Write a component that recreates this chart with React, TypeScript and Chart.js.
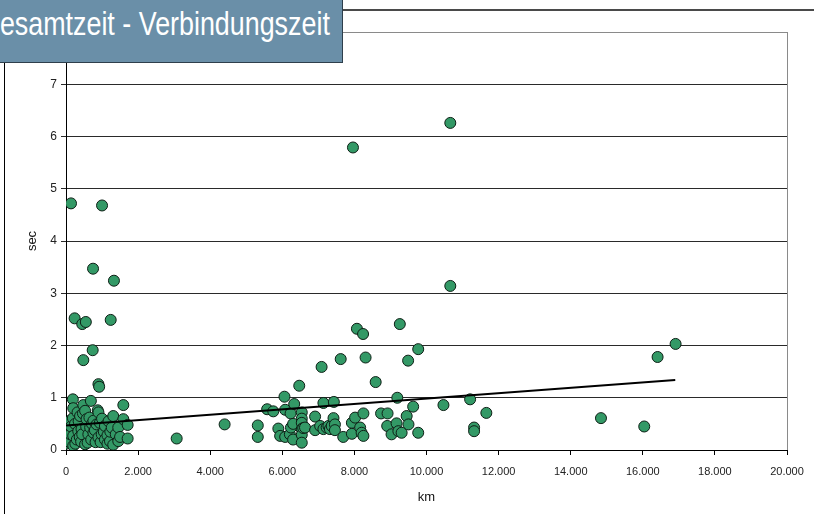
import React, { useEffect, useRef } from "react";
import { Chart, registerables } from "chart.js";

Chart.register(...registerables);

const kmValues: number[] = [
  0, 20, 30, 60, 60, 100, 110, 120, 139, 140, 190, 190, 200, 200, 200, 240, 250, 260, 300, 320,
  340, 350, 380, 390, 420, 430, 450, 450, 470, 480, 480, 530, 530, 550, 560, 570, 600, 620, 650, 670,
  690, 700, 720, 740, 750, 760, 760, 800, 820, 850, 880, 900, 900, 900, 920, 940, 960, 990, 1000, 1000,
  1050, 1080, 1080, 1150, 1150, 1180, 1220, 1230, 1240, 1270, 1310, 1310, 1330, 1380, 1450, 1450, 1500, 1590, 1590, 1710,
  1710, 3070, 4400,
  5320, 5320, 5580, 5750, 5890, 5940, 6060, 6080, 6080, 6210, 6230, 6240, 6300, 6300, 6330, 6470, 6540, 6540, 6540, 6540,
  6540, 6540, 6580, 6630, 6910, 6910, 7050, 7090, 7140, 7140, 7230, 7280, 7320, 7370, 7420, 7430, 7460, 7460, 7620, 7690,
  7930, 7930, 7960, 8020, 8070, 8160, 8200, 8240, 8250, 8250, 8310, 8590, 8740, 8910, 8920, 9030, 9170, 9190, 9220, 9260,
  9310, 9450, 9490, 9500, 9630, 9770, 9770, 10470, 10660, 10660, 11210, 11320, 11320, 11660, 14840, 16040, 16410, 16910,
];

const secValues: number[] = [
  0.12, 0.24, 0.40, 0.33, 0.18, 0.15, 0.56, 0.30, 4.72, 0.45, 0.61, 0.97, 0.80, 0.27, 0.08, 2.52, 0.50, 0.12, 0.20, 0.72,
  0.36, 0.55, 0.25, 0.65, 0.16, 0.40, 2.41, 0.30, 0.70, 0.86, 1.72, 0.75, 0.11, 2.45, 0.45, 0.59, 0.14, 0.30, 0.62, 0.43,
  0.94, 0.20, 0.50, 1.91, 3.47, 0.56, 0.33, 0.38, 0.15, 0.49, 0.76, 0.72, 0.24, 1.26, 1.21, 0.52, 0.15, 0.30, 4.68, 0.60,
  0.35, 0.46, 0.20, 0.28, 0.12, 0.55, 0.17, 0.35, 2.49, 0.43, 0.65, 0.10, 3.24, 0.30, 0.43, 0.17, 0.25, 0.86, 0.59, 0.48,
  0.22, 0.22, 0.49,
  0.47, 0.25, 0.78, 0.74, 0.41, 0.27, 1.02, 0.77, 0.25, 0.30, 0.70, 0.43, 0.50, 0.20, 0.88, 1.23, 0.72, 0.60, 0.52, 0.40,
  0.29, 0.14, 0.42, 0.43, 0.64, 0.38, 0.46, 1.59, 0.90, 0.40, 0.43, 0.46, 0.40, 0.46, 0.61, 0.92, 0.49, 0.38, 1.74, 0.25,
  0.52, 0.31, 5.79, 0.62, 2.32, 0.43, 0.33, 2.22, 0.70, 0.27, 1.77, 1.30, 0.70, 0.46, 0.70, 0.30, 0.51, 1.00, 0.36, 2.41,
  0.33, 0.65, 1.71, 0.49, 0.83, 0.33, 1.93, 0.86, 6.26, 3.14, 0.97, 0.43, 0.36, 0.71, 0.61, 0.45, 1.78, 2.03,
];

const trendKm: number[] = [0, 16900];
const trendSec: number[] = [0.47, 1.34];

const titleText = "Gesamtzeit - Verbindungszeit";
const xAxisTitle = "km";
const yAxisTitle = "sec";

const fmtThousands = (v: number) =>
  Math.round(v).toString().replace(/\B(?=(\d{3})+(?!\d))/g, ".");

const plotBorder = {
  id: "plotBorder",
  afterDatasetsDraw(chart: any) {
    const { ctx, chartArea } = chart;
    ctx.save();
    ctx.strokeStyle = "#8a8a8a";
    ctx.lineWidth = 1;
    ctx.beginPath();
    ctx.moveTo(Math.round(chartArea.right) + 0.5, chartArea.top);
    ctx.lineTo(Math.round(chartArea.right) + 0.5, chartArea.bottom);
    ctx.stroke();
    ctx.restore();
  },
};

export default function App() {
  const canvasRef = useRef<HTMLCanvasElement | null>(null);

  useEffect(() => {
    document.body.style.margin = "0";
    const canvas = canvasRef.current;
    if (!canvas) return;
    const points = kmValues.map((x, i) => ({ x, y: secValues[i] }));
    const trend = trendKm.map((x, i) => ({ x, y: trendSec[i] }));
    const font = "'Liberation Sans', Arial, sans-serif";

    const chart = new Chart(canvas, {
      type: "scatter",
      data: {
        datasets: [
          {
            type: "line",
            label: "Trend",
            data: trend,
            borderColor: "#000",
            borderWidth: 2,
            pointRadius: 0,
            fill: false,
            order: 0,
          } as any,
          {
            label: "Verbindungszeit",
            data: points,
            backgroundColor: "#339966",
            borderColor: "#0d1f15",
            borderWidth: 1,
            pointRadius: 5.5,
            order: 1,
          },
        ],
      },
      options: {
        animation: false,
        responsive: false,
        maintainAspectRatio: false,
        layout: { padding: { left: 21, right: 27, top: 32, bottom: 5 } },
        plugins: {
          legend: { display: false },
          tooltip: { enabled: false },
        },
        scales: {
          x: {
            type: "linear",
            min: 0,
            max: 20000,
            afterFit: (scale: any) => {
              scale.height = 59;
            },
            ticks: {
              stepSize: 2000,
              padding: 10,
              color: "#222",
              font: { family: font, size: 11 },
              callback: (v: any) => fmtThousands(Number(v)),
              maxRotation: 0,
            },
            grid: {
              drawOnChartArea: false,
              drawTicks: true,
              tickLength: 5,
              color: "#000",
            },
            border: { display: true, color: "#000", width: 1 },
            title: {
              display: true,
              text: xAxisTitle,
              color: "#111",
              font: { family: font, size: 13 },
              padding: { top: 4, bottom: 4 },
            },
          },
          y: {
            type: "linear",
            min: 0,
            max: 8,
            afterFit: (scale: any) => {
              scale.width = 45;
            },
            ticks: {
              stepSize: 1,
              padding: 4,
              color: "#222",
              font: { family: font, size: 12 },
              callback: (v: any) => (Number(v) === 8 ? "" : String(v)),
            },
            grid: {
              drawTicks: true,
              tickLength: 5,
              color: (c: any) => (c.tick && c.tick.value === 8 ? "#8a8a8a" : "#2a2a2a"),
              lineWidth: 1,
            },
            border: { display: true, color: "#000", width: 1 },
            title: {
              display: true,
              text: yAxisTitle,
              color: "#111",
              font: { family: font, size: 13 },
              padding: { top: 4, bottom: 4 },
            },
          },
        },
      },
      plugins: [plotBorder],
    });
    return () => chart.destroy();
  }, []);

  return (
    <div
      style={{
        position: "fixed",
        left: 0,
        top: 0,
        width: 814,
        height: 514,
        background: "#fff",
        overflow: "hidden",
      }}
    >
      <canvas
        ref={canvasRef}
        width={814}
        height={514}
        style={{ position: "absolute", left: 0, top: 0, width: 814, height: 514, display: "block" }}
      />
      <div
        style={{
          position: "absolute",
          left: 4,
          top: 60,
          width: 1,
          height: 454,
          background: "#000",
        }}
      />
      <div
        style={{
          position: "absolute",
          left: 343,
          top: 9,
          width: 471,
          height: 2,
          background: "#4a4a4a",
        }}
      />
      <div
        style={{
          position: "absolute",
          left: 0,
          top: 0,
          width: 342,
          height: 62,
          background: "#6a8fa8",
          borderRight: "1px solid #2e3f4c",
          borderBottom: "1px solid #2e3f4c",
          overflow: "hidden",
        }}
      >
        <span
          style={{
            position: "absolute",
            left: -21,
            top: 6,
            fontFamily: "'Liberation Sans', Arial, sans-serif",
            fontSize: 34,
            lineHeight: "34px",
            color: "#fff",
            whiteSpace: "nowrap",
            transform: "scaleX(0.79)",
            transformOrigin: "left top",
            display: "inline-block",
          }}
        >
          {titleText}
        </span>
      </div>
    </div>
  );
}
